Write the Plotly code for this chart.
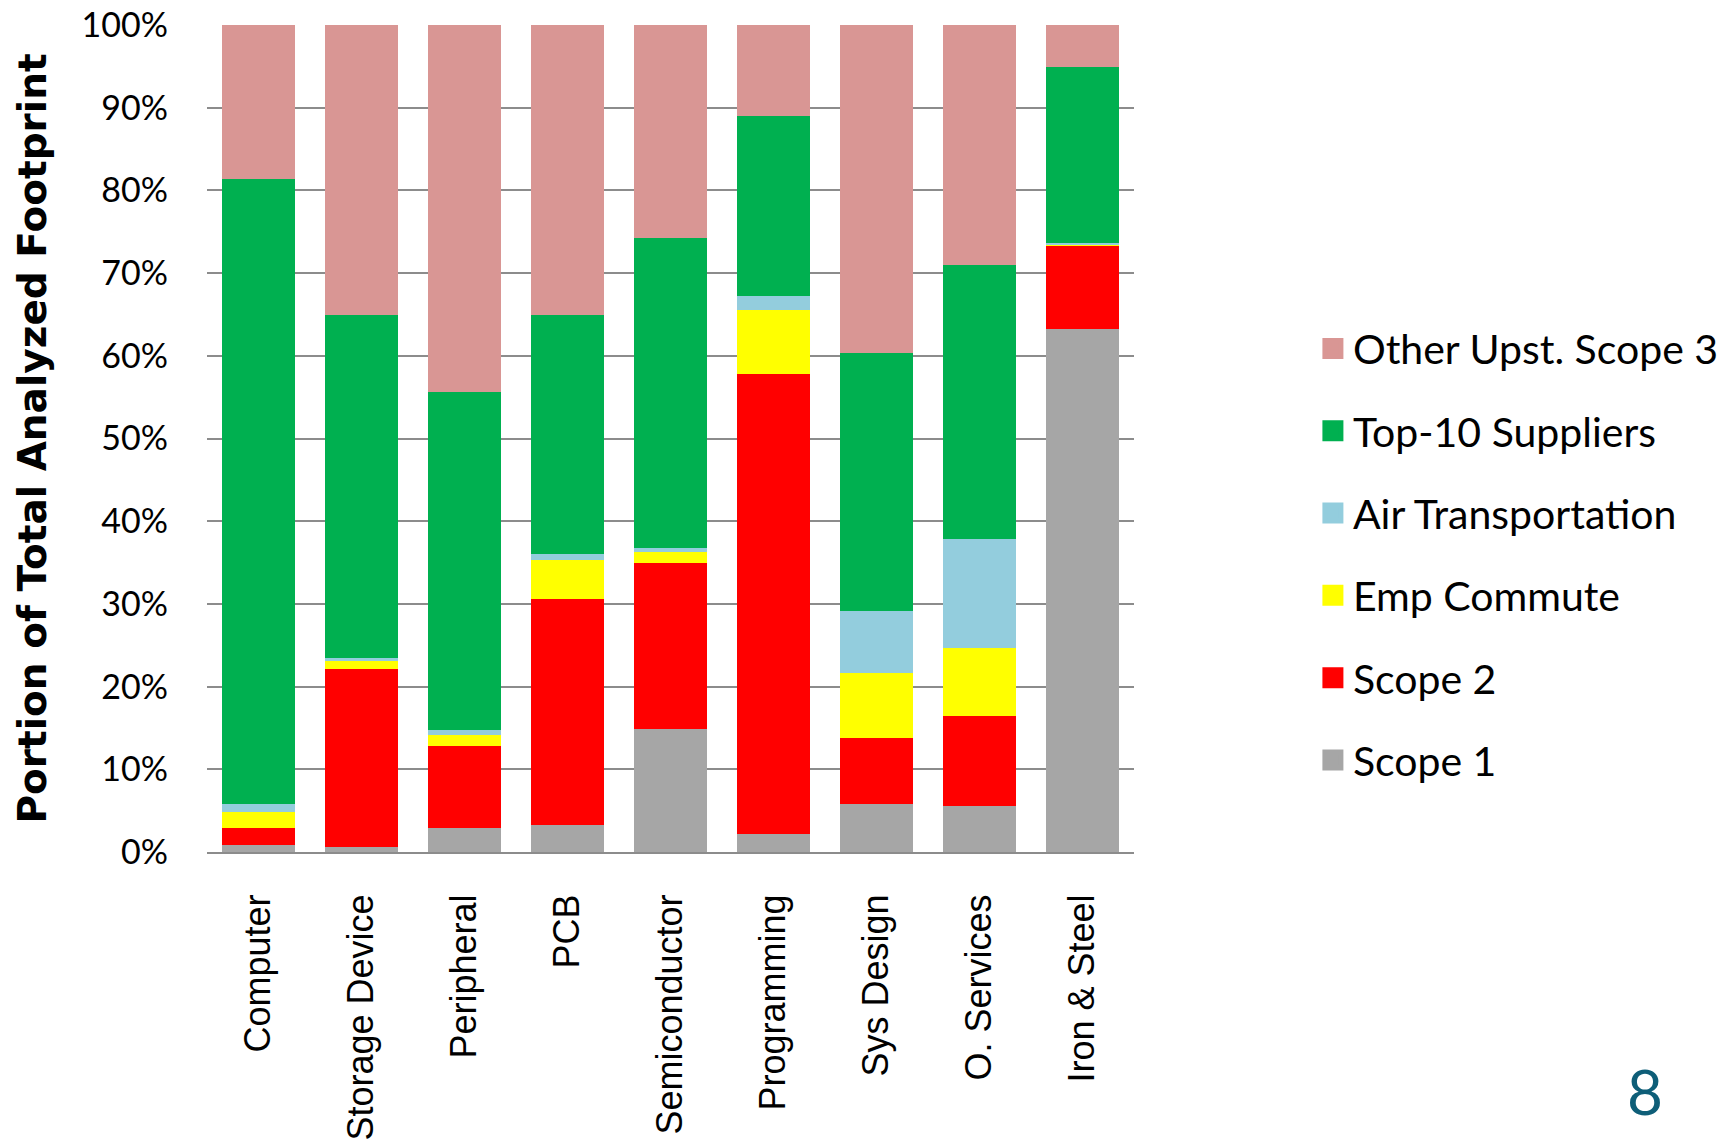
import plotly.graph_objects as go

categories = ["Computer", "Storage Device", "Peripheral", "PCB", "Semiconductor",
              "Programming", "Sys Design", "O. Services", "Iron & Steel"]

scope1 = [0.8, 0.6, 2.85, 3.25, 14.9, 2.15, 5.8, 5.55, 63.25]
scope2 = [2.05, 21.55, 9.95, 27.35, 20.0, 55.7, 8.0, 10.95, 10.05]
emp_commute = [2.0, 0.95, 1.4, 4.7, 1.4, 7.7, 7.9, 8.15, 0.2]
air_transport = [0.95, 0.4, 0.5, 0.7, 0.4, 1.65, 7.5, 13.15, 0.2]
top10_suppliers = [75.6, 41.4, 40.9, 28.9, 37.5, 21.8, 31.1, 33.2, 21.2]
other_upstream = [18.6, 35.1, 44.4, 35.1, 25.8, 11.0, 39.7, 29.0, 5.1]

series_names = ["Scope 1", "Scope 2", "Emp Commute", "Air Transportation",
                "Top-10 Suppliers", "Other Upst. Scope 3"]
series_values = [scope1, scope2, emp_commute, air_transport, top10_suppliers, other_upstream]
series_colors = ["#A6A6A6", "#FF0000", "#FFFF00", "#93CDDD", "#00B050", "#D99694"]

y_ticks = list(range(0, 101, 10))
y_tick_labels = [f"{v}%" for v in y_ticks]

fig = go.Figure()

for name, vals, col in zip(series_names, series_values, series_colors):
    fig.add_trace(go.Bar(
        x=categories, y=vals, name=name,
        marker=dict(color=col, line=dict(width=0)),
        showlegend=False,
    ))

# legend entries (larger square swatches), top to bottom
for name, col in zip(series_names[::-1], series_colors[::-1]):
    fig.add_trace(go.Scatter(
        x=[None], y=[None], mode="markers", name=name,
        legendgroup=name,
        marker=dict(symbol="square", size=16, color=col, line=dict(color=col, width=5)),
        showlegend=True,
    ))

fig.update_layout(
    width=1728, height=1144,
    margin=dict(l=207, r=594, t=25, b=292, autoexpand=False),
    paper_bgcolor="white", plot_bgcolor="white",
    barmode="stack", bargap=0.29,
    font=dict(family="Lato", color="#000000"),
    showlegend=True,
    legend=dict(
        x=1.193, xanchor="left", y=0.36, yanchor="middle",
        font=dict(family="Lato", size=41, color="#000000"),
        traceorder="grouped", tracegroupgap=26,
        itemsizing="trace", bgcolor="rgba(0,0,0,0)",
    ),
    annotations=[dict(
        text="8", xref="paper", yref="paper", x=1.551, y=-0.289,
        xanchor="center", yanchor="middle", showarrow=False,
        font=dict(family="Lato", size=62, color="#0E5E78"),
    )],
)

fig.update_xaxes(
    type="category",
    tickangle=-90,
    tickfont=dict(family="Liberation Sans", size=36, color="#000000"),
    showgrid=False, showline=True, linecolor="#8C8C8C", linewidth=2,
    ticks="", ticklabelstandoff=26,
)

fig.update_yaxes(
    range=[0, 100],
    tickmode="array", tickvals=y_ticks, ticktext=y_tick_labels,
    tickfont=dict(family="Lato", size=34, color="#000000"),
    showgrid=True, gridcolor="#8C8C8C", gridwidth=2,
    zeroline=False, showline=False, ticks="", ticklabelstandoff=38,
    title=dict(text="<b>Portion of Total Analyzed Footprint</b>",
               font=dict(family="DejaVu Sans", size=39, color="#000000"),
               standoff=22),
)

fig.write_html("out.html", config={"displayModeBar": False},
               post_script="document.body.style.margin='0';")
